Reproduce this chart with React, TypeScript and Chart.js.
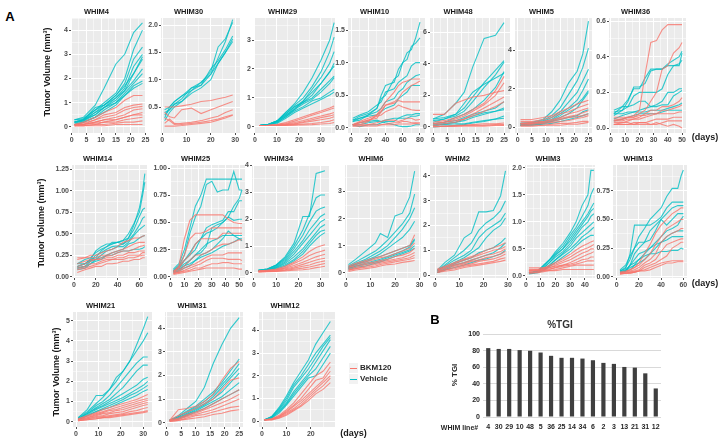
import React, { useEffect, useRef } from "react";
import { Chart, registerables } from "chart.js";

Chart.register(...registerables);

const FONT = "'Liberation Sans', Arial, Helvetica, sans-serif";
Chart.defaults.font.family = FONT;

const BKM_COLOR = "rgba(248,118,109,0.8)";
const VEH_COLOR = "rgba(0,191,196,0.8)";

// ---------------- DATA ----------------
const W4_DAYS = [1, 4, 8, 11, 15, 18, 21, 24];
const W4_VEH = [
  [0.3, 0.4, 0.9, 1.6, 2.6, 3.0, 3.9, 4.3],
  [0.3, 0.35, 0.7, 1.0, 1.4, 2.0, 3.2, 4.0],
  [0.2, 0.3, 0.7, 0.9, 1.3, 1.8, 2.8, 3.3],
  [0.2, 0.3, 0.6, 0.9, 1.2, 1.6, 2.5, 3.0],
  [0.2, 0.25, 0.6, 0.8, 1.1, 1.5, 2.2, 2.8],
  [0.15, 0.25, 0.5, 0.8, 1.2, 1.5, 1.9, 2.4],
  [0.2, 0.3, 0.5, 0.8, 1.0, 1.3, 1.6, 1.8],
  [0.1, 0.2, 0.4, 0.7, 1.0, 1.4, 1.8, 2.2],
  [0.3, 0.3, 0.8, 0.9, 1.3, 1.7, 2.2, 2.9],
  [0.1, 0.2, 0.4, 0.6, 0.9, 1.3, 1.7, 1.9],
];
const W4_BKM = [
  [0.1, 0.2, 0.4, 0.6, 0.8, 1.1, 1.3, 1.3],
  [0.1, 0.15, 0.3, 0.5, 0.6, 0.8, 0.9, 0.95],
  [0.1, 0.1, 0.3, 0.4, 0.5, 0.7, 0.8, 0.85],
  [0.1, 0.1, 0.2, 0.3, 0.4, 0.5, 0.7, 0.75],
  [0.05, 0.1, 0.2, 0.3, 0.3, 0.4, 0.5, 0.6],
  [0.1, 0.1, 0.15, 0.2, 0.3, 0.4, 0.5, 0.5],
  [0.05, 0.05, 0.1, 0.2, 0.2, 0.3, 0.35, 0.4],
  [0.05, 0.05, 0.1, 0.1, 0.15, 0.2, 0.2, 0.25],
  [0.05, 0.05, 0.05, 0.05, 0.1, 0.1, 0.1, 0.1],
];

const W30_DAYS = [1, 3, 5, 8, 12, 16, 20, 23, 26, 29];
const W30_VEH = [
  [0.45, 0.5, 0.6, 0.7, 0.85, 0.95, 1.15, 1.6, 1.75, 2.05],
  [0.4, 0.45, 0.55, 0.65, 0.85, 0.9, 1.1, 1.4, 1.7, 2.1],
  [0.35, 0.45, 0.55, 0.6, 0.8, 0.9, 1.2, 1.35, 1.55, 1.8],
  [0.3, 0.5, 0.6, 0.7, 0.8, 0.95, 1.1, 1.3, 1.5, 1.75],
  [0.25, 0.4, 0.5, 0.6, 0.75, 0.85, 1.0, 1.3, 1.5, 1.7],
];
const W30_BKM = [
  [0.5, 0.5, 0.5, 0.52, 0.55, 0.6, 0.62, 0.65, 0.68, 0.72],
  [0.4, 0.32, 0.3, 0.45, 0.48, 0.38, 0.45, 0.5, 0.55, 0.6],
  [0.3, 0.25, 0.18, 0.2, 0.22, 0.25, 0.3, 0.33, 0.4, 0.45],
  [0.2, 0.28, 0.2, 0.18, 0.2, 0.22, 0.25, 0.28, 0.32, 0.36],
  [0.15, 0.15, 0.15, 0.16, 0.18, 0.2, 0.22, 0.26, 0.3, 0.35],
];

const W29_DAYS = [2, 6, 10, 14, 18, 22, 26, 30, 34, 36];
const W29_VEH = [
  [0.05, 0.08, 0.2, 0.5, 0.8, 1.2, 1.7, 2.3, 3.0, 3.6],
  [0.05, 0.08, 0.2, 0.5, 0.75, 1.0, 1.4, 1.9, 2.6, 3.1],
  [0.05, 0.08, 0.2, 0.45, 0.7, 0.9, 1.3, 1.7, 2.2, 2.6],
  [0.05, 0.08, 0.18, 0.4, 0.65, 0.85, 1.1, 1.5, 1.9, 2.1],
  [0.05, 0.08, 0.2, 0.45, 0.7, 0.85, 1.0, 1.3, 1.6, 1.75],
  [0.05, 0.07, 0.15, 0.35, 0.6, 0.8, 0.95, 1.2, 1.5, 1.7],
  [0.05, 0.07, 0.15, 0.35, 0.55, 0.7, 0.9, 1.0, 1.2, 1.3],
  [0.05, 0.07, 0.12, 0.3, 0.5, 0.65, 0.8, 0.95, 1.1, 1.2],
  [0.05, 0.08, 0.2, 0.4, 0.6, 0.9, 1.2, 1.5, 1.9, 2.2],
];
const W29_BKM = [
  [0.05, 0.06, 0.08, 0.15, 0.25, 0.35, 0.45, 0.55, 0.65, 0.72],
  [0.05, 0.06, 0.08, 0.12, 0.2, 0.3, 0.4, 0.5, 0.6, 0.65],
  [0.05, 0.05, 0.07, 0.1, 0.15, 0.22, 0.3, 0.38, 0.45, 0.5],
  [0.05, 0.05, 0.06, 0.08, 0.12, 0.18, 0.25, 0.32, 0.38, 0.42],
  [0.05, 0.05, 0.06, 0.08, 0.1, 0.15, 0.2, 0.25, 0.3, 0.35],
  [0.05, 0.05, 0.05, 0.06, 0.08, 0.1, 0.12, 0.15, 0.2, 0.25],
  [0.05, 0.05, 0.05, 0.05, 0.06, 0.07, 0.08, 0.1, 0.12, 0.15],
];

const W10_DAYS = [2, 10, 20, 30, 35, 40, 50, 55, 60, 65, 70, 75, 80];
const W10_VEH = [
  [0.12, 0.18, 0.22, 0.3, 0.5, 0.65, 0.7, 0.9, 1.0, 1.15, 1.2, 1.38, 1.62],
  [0.1, 0.15, 0.2, 0.3, 0.45, 0.5, 0.75, 0.8, 1.0, 1.05, 1.25, 1.3, 1.38],
  [0.15, 0.2, 0.25, 0.35, 0.4, 0.55, 0.6, 0.7, 0.75, 0.8, 0.95, 1.0, 1.0],
  [0.1, 0.12, 0.2, 0.25, 0.3, 0.4, 0.45, 0.55, 0.6, 0.7, 0.75, 0.8, 0.82],
  [0.12, 0.15, 0.18, 0.2, 0.25, 0.3, 0.35, 0.45, 0.5, 0.55, 0.65, 0.65, 0.65],
  [0.05, 0.05, 0.08, 0.1, 0.1, 0.12, 0.15, 0.15, 0.18, 0.2, 0.2, 0.22, 0.22],
  [0.05, 0.02, 0.05, 0.05, 0.08, 0.1, 0.1, 0.15, 0.15, 0.15, 0.18, 0.18, 0.2],
  [0.05, 0.08, 0.1, 0.12, 0.1, 0.08, 0.05, 0.03, 0.02, 0.02, 0.03, 0.05, 0.05],
];
const W10_BKM = [
  [0.05, 0.05, 0.1, 0.2, 0.3, 0.4, 0.55, 0.65, 0.7, 0.72, 0.75, 0.75, 0.75],
  [0.05, 0.08, 0.12, 0.15, 0.25, 0.35, 0.4, 0.45, 0.55, 0.6, 0.65, 0.68, 0.72],
  [0.05, 0.1, 0.15, 0.2, 0.25, 0.35, 0.38, 0.42, 0.4, 0.4, 0.4, 0.4, 0.4],
  [0.05, 0.08, 0.12, 0.18, 0.2, 0.25, 0.3, 0.35, 0.32, 0.3, 0.28, 0.27, 0.27],
  [0.05, 0.05, 0.05, 0.08, 0.1, 0.12, 0.12, 0.1, 0.12, 0.15, 0.15, 0.12, 0.13],
  [0.03, 0.03, 0.05, 0.05, 0.05, 0.06, 0.08, 0.08, 0.1, 0.1, 0.08, 0.08, 0.08],
  [0.03, 0.03, 0.03, 0.03, 0.05, 0.05, 0.05, 0.06, 0.06, 0.06, 0.06, 0.07, 0.06],
];

const W48_DAYS = [0, 4, 8, 11, 14, 18, 22, 25];
const W48_VEH = [
  [0.5, 0.8, 1.5, 2.2, 3.8, 5.6, 5.8, 6.6],
  [0.5, 0.6, 0.8, 1.2, 1.9, 2.8, 3.6, 4.2],
  [0.4, 0.5, 0.7, 1.0, 1.6, 2.5, 3.3, 4.1],
  [0.3, 0.5, 0.8, 1.5, 2.2, 2.7, 3.1, 3.4],
  [0.2, 0.3, 0.6, 0.8, 1.1, 1.7, 2.5, 3.5],
  [0.2, 0.3, 0.4, 0.6, 0.8, 1.0, 1.2, 1.6],
  [0.1, 0.2, 0.3, 0.5, 0.7, 0.9, 1.0, 1.2],
  [0.1, 0.2, 0.3, 0.4, 0.6, 0.8, 1.0, 1.1],
  [0.0, 0.05, 0.1, 0.15, 0.25, 0.35, 0.5, 0.7],
  [0.1, 0.15, 0.2, 0.2, 0.3, 0.4, 0.5, 0.55],
];
const W48_BKM = [
  [0.8, 0.8, 1.5, 1.7, 1.9, 2.0, 2.2, 2.3],
  [0.3, 0.4, 0.6, 0.8, 1.1, 1.5, 2.3, 3.2],
  [0.2, 0.3, 0.5, 0.7, 1.0, 1.4, 2.0, 2.8],
  [0.2, 0.3, 0.4, 0.5, 0.8, 1.2, 1.6, 1.9],
  [0.1, 0.2, 0.3, 0.5, 0.7, 1.0, 1.3, 1.6],
  [0.05, 0.05, 0.1, 0.1, 0.15, 0.2, 0.2, 0.25],
  [0.05, 0.05, 0.05, 0.1, 0.1, 0.1, 0.15, 0.15],
  [0.0, 0.05, 0.05, 0.05, 0.05, 0.05, 0.1, 0.1],
];

const W5_DAYS = [1, 5, 9, 12, 15, 18, 21, 23, 25];
const W5_VEH = [
  [0.2, 0.25, 0.4, 0.8, 1.4, 2.3, 2.9, 3.8, 5.5],
  [0.15, 0.2, 0.35, 0.6, 1.0, 1.7, 2.4, 3.1, 4.1],
  [0.2, 0.2, 0.3, 0.5, 0.8, 1.3, 1.8, 2.4, 3.0],
  [0.15, 0.2, 0.3, 0.4, 0.7, 1.0, 1.4, 1.9, 2.5],
  [0.1, 0.15, 0.25, 0.35, 0.6, 0.9, 1.2, 1.5, 1.9],
  [0.1, 0.15, 0.2, 0.3, 0.5, 0.7, 1.0, 1.4, 1.8],
  [0.1, 0.1, 0.2, 0.3, 0.4, 0.5, 0.6, 0.8, 0.9],
  [0.1, 0.1, 0.15, 0.2, 0.3, 0.4, 0.5, 0.6, 0.7],
];
const W5_BKM = [
  [0.4, 0.4, 0.5, 0.6, 0.8, 1.0, 1.2, 1.3, 1.4],
  [0.3, 0.3, 0.4, 0.5, 0.7, 0.8, 1.0, 1.1, 1.2],
  [0.2, 0.25, 0.3, 0.4, 0.5, 0.7, 0.8, 0.9, 1.0],
  [0.2, 0.2, 0.3, 0.35, 0.45, 0.55, 0.65, 0.75, 0.85],
  [0.15, 0.2, 0.25, 0.3, 0.4, 0.5, 0.55, 0.6, 0.7],
  [0.1, 0.15, 0.2, 0.25, 0.3, 0.35, 0.45, 0.5, 0.6],
  [0.1, 0.1, 0.1, 0.15, 0.2, 0.2, 0.25, 0.3, 0.3],
  [0.05, 0.05, 0.1, 0.1, 0.1, 0.15, 0.15, 0.2, 0.25],
];

const W36_DAYS = [2, 8, 12, 16, 20, 24, 28, 32, 36, 40, 44, 48, 50];
const W36_VEH = [
  [0.08, 0.12, 0.16, 0.22, 0.22, 0.28, 0.33, 0.33, 0.33, 0.36, 0.38, 0.4, 0.43],
  [0.09, 0.1, 0.15, 0.23, 0.23, 0.25, 0.32, 0.33, 0.33, 0.35, 0.35, 0.35, 0.42],
  [0.07, 0.1, 0.12, 0.18, 0.2, 0.2, 0.2, 0.2, 0.22, 0.3, 0.35, 0.36, 0.38],
  [0.1, 0.12, 0.12, 0.13, 0.15, 0.15, 0.12, 0.13, 0.15, 0.2, 0.2, 0.22, 0.22],
  [0.08, 0.08, 0.09, 0.09, 0.1, 0.11, 0.12, 0.12, 0.13, 0.13, 0.18, 0.2, 0.21],
  [0.05, 0.07, 0.08, 0.09, 0.09, 0.09, 0.1, 0.1, 0.1, 0.11, 0.12, 0.13, 0.14],
  [0.04, 0.05, 0.06, 0.07, 0.08, 0.08, 0.08, 0.08, 0.09, 0.1, 0.1, 0.1, 0.1],
];
const W36_BKM = [
  [0.04, 0.05, 0.06, 0.07, 0.1, 0.3, 0.48, 0.49, 0.55, 0.58, 0.58, 0.58, 0.58],
  [0.05, 0.05, 0.06, 0.06, 0.08, 0.1, 0.15, 0.2, 0.33, 0.35, 0.42, 0.45, 0.48],
  [0.02, 0.03, 0.04, 0.05, 0.06, 0.08, 0.1, 0.1, 0.12, 0.12, 0.13, 0.15, 0.17],
  [0.04, 0.04, 0.05, 0.05, 0.05, 0.06, 0.07, 0.08, 0.1, 0.1, 0.11, 0.12, 0.13],
  [0.06, 0.06, 0.06, 0.06, 0.07, 0.07, 0.08, 0.08, 0.08, 0.08, 0.08, 0.09, 0.09],
  [0.03, 0.03, 0.03, 0.02, 0.03, 0.03, 0.04, 0.05, 0.05, 0.05, 0.06, 0.06, 0.06],
  [0.02, 0.02, 0.02, 0.03, 0.03, 0.03, 0.02, 0.02, 0.03, 0.04, 0.04, 0.04, 0.04],
  [0.02, 0.02, 0.02, 0.02, 0.02, 0.02, 0.02, 0.03, 0.02, 0.01, 0.02, 0.01, 0.0],
];

const W14_DAYS = [3, 10, 15, 20, 25, 30, 35, 40, 45, 50, 55, 60, 63, 65];
const W14_VEH = [
  [0.12, 0.15, 0.2, 0.3, 0.35, 0.38, 0.38, 0.4, 0.42, 0.45, 0.6, 0.8, 1.0, 1.2],
  [0.15, 0.2, 0.22, 0.28, 0.32, 0.35, 0.4, 0.4, 0.42, 0.5, 0.62, 0.75, 0.95, 1.1],
  [0.1, 0.12, 0.18, 0.25, 0.28, 0.32, 0.35, 0.36, 0.38, 0.45, 0.55, 0.7, 0.78, 0.8],
  [0.12, 0.15, 0.2, 0.22, 0.3, 0.35, 0.38, 0.4, 0.38, 0.42, 0.5, 0.6, 0.68, 0.7],
  [0.08, 0.1, 0.15, 0.2, 0.25, 0.3, 0.32, 0.35, 0.35, 0.4, 0.48, 0.55, 0.58, 0.6],
  [0.1, 0.12, 0.15, 0.18, 0.2, 0.25, 0.28, 0.3, 0.32, 0.38, 0.4, 0.45, 0.47, 0.48],
  [0.15, 0.15, 0.18, 0.2, 0.22, 0.25, 0.25, 0.28, 0.3, 0.3, 0.32, 0.32, 0.33, 0.35],
];
const W14_BKM = [
  [0.2, 0.22, 0.25, 0.25, 0.28, 0.3, 0.32, 0.35, 0.4, 0.42, 0.45, 0.45, 0.47, 0.48],
  [0.22, 0.22, 0.22, 0.22, 0.25, 0.25, 0.28, 0.3, 0.32, 0.35, 0.38, 0.4, 0.4, 0.4],
  [0.15, 0.18, 0.2, 0.2, 0.22, 0.24, 0.25, 0.28, 0.3, 0.3, 0.32, 0.35, 0.36, 0.37],
  [0.12, 0.15, 0.18, 0.2, 0.2, 0.22, 0.22, 0.25, 0.25, 0.28, 0.28, 0.3, 0.3, 0.3],
  [0.1, 0.12, 0.15, 0.15, 0.18, 0.2, 0.2, 0.22, 0.22, 0.25, 0.25, 0.25, 0.28, 0.28],
  [0.08, 0.1, 0.12, 0.14, 0.16, 0.18, 0.2, 0.2, 0.2, 0.22, 0.22, 0.24, 0.25, 0.25],
  [0.05, 0.08, 0.1, 0.12, 0.12, 0.15, 0.15, 0.16, 0.18, 0.18, 0.2, 0.2, 0.22, 0.22],
];

const W25_DAYS = [2, 6, 10, 14, 18, 22, 26, 30, 34, 38, 42, 46, 50, 52];
const W25_VEH = [
  [0.07, 0.12, 0.25, 0.45, 0.65, 0.75, 0.9, 0.9, 0.9, 0.9, 0.9, 0.9, 0.9, 0.9],
  [0.05, 0.1, 0.2, 0.4, 0.55, 0.65, 0.85, 0.88, 0.78, 0.8, 0.8, 0.97, 0.8, 0.8],
  [0.05, 0.08, 0.15, 0.22, 0.3, 0.35, 0.4, 0.42, 0.45, 0.5, 0.55, 0.65, 0.72, 0.8],
  [0.06, 0.1, 0.15, 0.2, 0.25, 0.35, 0.45, 0.48, 0.5, 0.52, 0.6, 0.6, 0.7, 0.7],
  [0.05, 0.08, 0.12, 0.15, 0.2, 0.22, 0.28, 0.45, 0.48, 0.5, 0.55, 0.52, 0.53, 0.53],
  [0.04, 0.06, 0.1, 0.15, 0.2, 0.25, 0.3, 0.33, 0.35, 0.38, 0.38, 0.38, 0.38, 0.38],
  [0.05, 0.07, 0.1, 0.12, 0.15, 0.2, 0.22, 0.25, 0.3, 0.35, 0.42, 0.38, 0.35, 0.33],
  [0.04, 0.05, 0.08, 0.1, 0.15, 0.18, 0.2, 0.22, 0.25, 0.28, 0.3, 0.32, 0.35, 0.35],
];
const W25_BKM = [
  [0.05, 0.1, 0.35, 0.52, 0.57, 0.57, 0.57, 0.57, 0.57, 0.57, 0.53, 0.5, 0.49, 0.49],
  [0.04, 0.08, 0.2, 0.35, 0.4, 0.4, 0.42, 0.45, 0.45, 0.45, 0.45, 0.45, 0.45, 0.45],
  [0.05, 0.08, 0.15, 0.2, 0.3, 0.35, 0.35, 0.35, 0.35, 0.4, 0.4, 0.4, 0.4, 0.4],
  [0.04, 0.06, 0.1, 0.15, 0.2, 0.2, 0.22, 0.25, 0.28, 0.3, 0.3, 0.32, 0.34, 0.34],
  [0.03, 0.05, 0.08, 0.1, 0.12, 0.15, 0.18, 0.2, 0.2, 0.2, 0.22, 0.22, 0.22, 0.22],
  [0.03, 0.04, 0.06, 0.08, 0.1, 0.12, 0.15, 0.17, 0.17, 0.17, 0.16, 0.16, 0.16, 0.15],
  [0.03, 0.04, 0.05, 0.06, 0.08, 0.08, 0.1, 0.12, 0.12, 0.13, 0.13, 0.12, 0.12, 0.12],
  [0.02, 0.03, 0.04, 0.05, 0.06, 0.07, 0.08, 0.08, 0.08, 0.08, 0.08, 0.08, 0.07, 0.07],
];

const W34_DAYS = [2, 6, 10, 14, 18, 22, 25, 28, 30, 32];
const W34_VEH = [
  [0.1, 0.15, 0.3, 0.6, 1.1, 2.1, 2.1, 3.7, 3.75, 3.8],
  [0.1, 0.15, 0.3, 0.55, 1.0, 1.6, 2.2, 2.8, 2.9, 2.9],
  [0.1, 0.15, 0.28, 0.5, 0.9, 1.4, 1.9, 2.3, 2.4, 2.45],
  [0.1, 0.12, 0.25, 0.45, 0.8, 1.2, 1.6, 1.9, 2.1, 2.2],
  [0.08, 0.12, 0.22, 0.4, 0.7, 1.1, 1.4, 1.7, 1.9, 2.0],
  [0.08, 0.1, 0.2, 0.35, 0.6, 0.9, 1.2, 1.5, 1.7, 1.8],
  [0.07, 0.1, 0.18, 0.3, 0.5, 0.8, 1.1, 1.4, 1.55, 1.6],
  [0.06, 0.08, 0.15, 0.25, 0.45, 0.7, 1.0, 1.25, 1.4, 1.5],
];
const W34_BKM = [
  [0.08, 0.1, 0.15, 0.25, 0.4, 0.6, 0.8, 0.95, 1.0, 1.05],
  [0.08, 0.1, 0.12, 0.2, 0.35, 0.5, 0.65, 0.75, 0.8, 0.85],
  [0.06, 0.08, 0.12, 0.18, 0.28, 0.4, 0.5, 0.6, 0.65, 0.7],
  [0.05, 0.07, 0.1, 0.15, 0.22, 0.32, 0.4, 0.48, 0.52, 0.55],
  [0.05, 0.06, 0.08, 0.12, 0.18, 0.25, 0.3, 0.38, 0.42, 0.45],
  [0.05, 0.06, 0.07, 0.1, 0.14, 0.18, 0.22, 0.28, 0.32, 0.35],
  [0.04, 0.05, 0.06, 0.08, 0.1, 0.12, 0.15, 0.2, 0.22, 0.25],
];

const W6_DAYS = [1, 4, 8, 12, 14, 17, 20, 23, 26, 28];
const W6_VEH = [
  [0.3, 0.5, 0.8, 1.1, 1.45, 1.3, 2.1, 2.2, 2.8, 3.75],
  [0.25, 0.4, 0.6, 0.8, 0.95, 1.2, 1.5, 1.8, 2.2, 2.9],
  [0.2, 0.35, 0.5, 0.7, 0.8, 1.0, 1.3, 1.6, 2.0, 2.4],
  [0.2, 0.3, 0.45, 0.6, 0.7, 0.9, 1.1, 1.3, 1.6, 1.9],
  [0.2, 0.3, 0.4, 0.55, 0.6, 0.7, 0.8, 0.9, 1.0, 1.25],
  [0.15, 0.25, 0.35, 0.45, 0.5, 0.6, 0.7, 0.8, 0.95, 1.2],
  [0.15, 0.25, 0.3, 0.4, 0.45, 0.55, 0.65, 0.75, 0.85, 1.0],
  [0.1, 0.2, 0.25, 0.35, 0.4, 0.5, 0.6, 0.7, 0.8, 0.9],
];
const W6_BKM = [
  [0.25, 0.35, 0.45, 0.55, 0.6, 0.7, 0.8, 0.9, 1.0, 1.4],
  [0.2, 0.3, 0.4, 0.5, 0.55, 0.6, 0.7, 0.8, 0.9, 1.1],
  [0.2, 0.25, 0.35, 0.4, 0.45, 0.5, 0.6, 0.65, 0.75, 0.9],
  [0.15, 0.2, 0.3, 0.35, 0.4, 0.45, 0.5, 0.55, 0.65, 0.75],
  [0.1, 0.15, 0.25, 0.3, 0.35, 0.4, 0.45, 0.5, 0.55, 0.65],
  [0.1, 0.15, 0.2, 0.25, 0.3, 0.35, 0.4, 0.45, 0.5, 0.55],
  [0.05, 0.1, 0.15, 0.2, 0.25, 0.3, 0.32, 0.38, 0.42, 0.45],
];

const W2_DAYS = [1, 4, 8, 12, 15, 18, 21, 24, 27, 29];
const W2_VEH = [
  [0.2, 0.5, 0.8, 1.5, 1.7, 2.55, 2.55, 2.6, 3.2, 4.2],
  [0.15, 0.4, 0.7, 1.0, 1.3, 1.8, 2.1, 2.3, 2.6, 3.0],
  [0.2, 0.35, 0.6, 0.8, 1.0, 1.5, 1.8, 2.0, 2.2, 2.5],
  [0.15, 0.3, 0.5, 0.7, 0.9, 1.1, 1.5, 1.8, 2.0, 2.3],
  [0.1, 0.25, 0.45, 0.6, 0.7, 0.9, 1.0, 1.1, 1.3, 1.5],
  [0.1, 0.2, 0.4, 0.5, 0.6, 0.7, 0.8, 0.9, 1.1, 1.3],
  [0.1, 0.2, 0.3, 0.4, 0.5, 0.6, 0.65, 0.75, 0.85, 1.0],
];
const W2_BKM = [
  [0.25, 0.35, 0.5, 0.65, 0.75, 0.85, 1.0, 1.1, 1.2, 1.3],
  [0.2, 0.3, 0.45, 0.6, 0.7, 0.8, 0.9, 1.0, 1.05, 1.15],
  [0.2, 0.3, 0.4, 0.5, 0.6, 0.7, 0.8, 0.85, 0.95, 1.05],
  [0.15, 0.25, 0.35, 0.45, 0.55, 0.6, 0.7, 0.75, 0.85, 0.95],
  [0.15, 0.2, 0.3, 0.4, 0.45, 0.55, 0.6, 0.65, 0.75, 0.85],
  [0.1, 0.2, 0.25, 0.35, 0.4, 0.45, 0.5, 0.55, 0.65, 0.7],
  [0.1, 0.15, 0.2, 0.3, 0.35, 0.4, 0.45, 0.5, 0.55, 0.6],
];

const W3_DAYS = [2, 8, 12, 16, 20, 25, 30, 34, 38, 42, 44, 46];
const W3_VEH = [
  [0.05, 0.08, 0.2, 0.3, 0.45, 0.6, 0.8, 1.0, 1.3, 1.5, 1.95, 1.95],
  [0.05, 0.08, 0.18, 0.3, 0.42, 0.55, 0.75, 0.9, 1.1, 1.3, 1.5, 1.62],
  [0.06, 0.1, 0.2, 0.3, 0.4, 0.5, 0.7, 0.85, 1.0, 1.15, 1.25, 1.35],
  [0.05, 0.08, 0.15, 0.25, 0.38, 0.5, 0.65, 0.8, 0.95, 1.1, 1.2, 1.25],
  [0.05, 0.08, 0.15, 0.25, 0.35, 0.45, 0.6, 0.75, 0.9, 1.0, 1.1, 1.15],
  [0.05, 0.07, 0.12, 0.2, 0.3, 0.42, 0.55, 0.7, 0.8, 0.9, 0.95, 1.0],
  [0.05, 0.07, 0.12, 0.2, 0.3, 0.4, 0.5, 0.6, 0.72, 0.8, 0.85, 0.9],
  [0.04, 0.06, 0.1, 0.18, 0.25, 0.35, 0.45, 0.55, 0.65, 0.72, 0.75, 0.75],
];
const W3_BKM = [
  [0.1, 0.12, 0.15, 0.2, 0.25, 0.32, 0.4, 0.48, 0.55, 0.6, 0.63, 0.65],
  [0.08, 0.1, 0.13, 0.18, 0.22, 0.28, 0.35, 0.42, 0.48, 0.52, 0.55, 0.58],
  [0.06, 0.08, 0.12, 0.15, 0.2, 0.25, 0.3, 0.36, 0.42, 0.46, 0.5, 0.5],
  [0.05, 0.07, 0.1, 0.12, 0.16, 0.2, 0.25, 0.3, 0.35, 0.4, 0.42, 0.45],
  [0.15, 0.15, 0.15, 0.16, 0.18, 0.2, 0.22, 0.25, 0.3, 0.32, 0.35, 0.35],
  [0.12, 0.12, 0.12, 0.13, 0.15, 0.18, 0.2, 0.22, 0.25, 0.28, 0.28, 0.28],
  [0.05, 0.06, 0.08, 0.1, 0.12, 0.15, 0.18, 0.2, 0.2, 0.2, 0.2, 0.2],
  [0.1, 0.1, 0.1, 0.1, 0.1, 0.12, 0.12, 0.12, 0.12, 0.12, 0.12, 0.12],
];

const W13_DAYS = [3, 8, 12, 16, 20, 25, 30, 35, 40, 45, 50, 55, 58, 60];
const W13_VEH = [
  [0.05, 0.08, 0.15, 0.25, 0.35, 0.42, 0.5, 0.55, 0.6, 0.7, 0.77, 0.77, 0.88, 0.93],
  [0.05, 0.07, 0.2, 0.45, 0.45, 0.45, 0.45, 0.48, 0.52, 0.6, 0.65, 0.65, 0.65, 0.65],
  [0.04, 0.06, 0.1, 0.2, 0.25, 0.3, 0.4, 0.45, 0.5, 0.55, 0.6, 0.62, 0.62, 0.62],
  [0.06, 0.1, 0.18, 0.25, 0.3, 0.3, 0.32, 0.4, 0.5, 0.45, 0.5, 0.55, 0.55, 0.55],
  [0.03, 0.05, 0.1, 0.15, 0.2, 0.22, 0.25, 0.3, 0.35, 0.4, 0.42, 0.45, 0.5, 0.53],
  [0.04, 0.05, 0.08, 0.1, 0.15, 0.2, 0.25, 0.28, 0.3, 0.35, 0.38, 0.4, 0.4, 0.4],
  [0.03, 0.05, 0.06, 0.1, 0.12, 0.15, 0.2, 0.25, 0.3, 0.32, 0.35, 0.35, 0.35, 0.35],
  [0.05, 0.05, 0.1, 0.12, 0.15, 0.18, 0.2, 0.2, 0.22, 0.22, 0.23, 0.23, 0.25, 0.24],
];
const W13_BKM = [
  [0.04, 0.05, 0.06, 0.08, 0.12, 0.2, 0.28, 0.38, 0.45, 0.5, 0.55, 0.58, 0.6, 0.6],
  [0.03, 0.04, 0.06, 0.08, 0.1, 0.15, 0.2, 0.28, 0.35, 0.42, 0.45, 0.48, 0.5, 0.5],
  [0.03, 0.04, 0.05, 0.06, 0.08, 0.12, 0.15, 0.2, 0.3, 0.35, 0.38, 0.4, 0.42, 0.42],
  [0.03, 0.03, 0.04, 0.05, 0.06, 0.1, 0.12, 0.15, 0.22, 0.28, 0.3, 0.32, 0.33, 0.33],
  [0.03, 0.03, 0.04, 0.04, 0.05, 0.08, 0.1, 0.12, 0.15, 0.18, 0.25, 0.28, 0.3, 0.3],
  [0.03, 0.03, 0.03, 0.04, 0.05, 0.06, 0.08, 0.1, 0.12, 0.13, 0.14, 0.14, 0.14, 0.14],
  [0.02, 0.03, 0.03, 0.04, 0.05, 0.05, 0.06, 0.08, 0.1, 0.12, 0.12, 0.13, 0.13, 0.13],
];

const W21_DAYS = [1, 5, 9, 12, 15, 18, 21, 24, 27, 30, 32];
const W21_VEH = [
  [0.2, 0.6, 1.3, 1.3, 1.6, 2.2, 2.5, 3.0, 3.8, 4.6, 5.2],
  [0.2, 0.5, 0.9, 1.2, 1.6, 2.0, 2.5, 3.0, 3.5, 4.0, 4.4],
  [0.15, 0.45, 0.8, 1.0, 1.3, 1.7, 2.1, 2.5, 2.9, 3.2, 3.2],
  [0.15, 0.4, 0.7, 0.9, 1.1, 1.4, 1.7, 2.1, 2.5, 2.8, 2.8],
  [0.15, 0.4, 0.65, 0.8, 1.0, 1.2, 1.4, 1.6, 1.8, 2.1, 2.2],
  [0.1, 0.35, 0.6, 0.75, 0.9, 1.05, 1.2, 1.4, 1.6, 1.8, 2.0],
  [0.1, 0.3, 0.5, 0.65, 0.8, 0.95, 1.1, 1.3, 1.45, 1.65, 1.8],
  [0.1, 0.3, 0.5, 0.6, 0.7, 0.85, 1.0, 1.15, 1.3, 1.5, 1.6],
];
const W21_BKM = [
  [0.15, 0.3, 0.45, 0.6, 0.7, 0.8, 0.9, 1.0, 1.1, 1.25, 1.35],
  [0.15, 0.25, 0.4, 0.5, 0.6, 0.7, 0.8, 0.9, 1.0, 1.1, 1.15],
  [0.1, 0.2, 0.35, 0.45, 0.55, 0.6, 0.7, 0.8, 0.9, 1.0, 1.05],
  [0.1, 0.2, 0.3, 0.4, 0.45, 0.55, 0.6, 0.7, 0.8, 0.9, 0.95],
  [0.1, 0.15, 0.25, 0.3, 0.4, 0.45, 0.5, 0.6, 0.7, 0.8, 0.85],
  [0.05, 0.15, 0.2, 0.25, 0.3, 0.35, 0.4, 0.5, 0.55, 0.65, 0.7],
  [0.05, 0.1, 0.15, 0.2, 0.25, 0.3, 0.35, 0.4, 0.45, 0.5, 0.55],
  [0.05, 0.1, 0.15, 0.2, 0.2, 0.25, 0.3, 0.35, 0.4, 0.45, 0.5],
];

const W31_DAYS = [1, 4, 7, 10, 13, 16, 19, 22, 25];
const W31_VEH = [
  [0.1, 0.3, 0.6, 0.9, 1.5, 2.5, 3.3, 4.0, 4.45],
  [0.1, 0.25, 0.5, 0.7, 1.0, 1.3, 1.7, 2.2, 2.7],
  [0.1, 0.25, 0.45, 0.65, 0.9, 1.2, 1.6, 2.0, 2.5],
  [0.1, 0.2, 0.4, 0.6, 0.8, 1.1, 1.5, 1.9, 2.3],
  [0.1, 0.2, 0.35, 0.55, 0.75, 1.0, 1.3, 1.7, 2.1],
  [0.08, 0.2, 0.35, 0.5, 0.7, 0.9, 1.1, 1.4, 1.7],
  [0.08, 0.15, 0.3, 0.45, 0.6, 0.8, 1.0, 1.2, 1.4],
];
const W31_BKM = [
  [0.1, 0.55, 0.6, 0.7, 0.9, 1.2, 1.8, 2.3, 2.6],
  [0.1, 0.3, 0.45, 0.6, 0.8, 1.0, 1.4, 1.8, 1.9],
  [0.1, 0.2, 0.35, 0.45, 0.6, 0.8, 1.0, 1.2, 1.4],
  [0.08, 0.15, 0.3, 0.4, 0.55, 0.7, 0.85, 1.0, 1.2],
  [0.08, 0.15, 0.25, 0.35, 0.45, 0.55, 0.7, 0.85, 1.0],
  [0.05, 0.1, 0.2, 0.3, 0.35, 0.45, 0.55, 0.65, 0.7],
  [0.05, 0.1, 0.15, 0.2, 0.25, 0.35, 0.4, 0.5, 0.55],
];

const W12_DAYS = [1, 4, 7, 10, 13, 16, 19, 22, 25, 28];
const W12_VEH = [
  [0.05, 0.2, 0.6, 1.1, 1.7, 2.2, 2.7, 3.4, 3.9, 4.4],
  [0.05, 0.2, 0.55, 1.0, 1.6, 2.0, 2.5, 3.0, 3.4, 3.8],
  [0.05, 0.18, 0.5, 0.9, 1.5, 1.9, 2.3, 2.8, 3.3, 3.7],
  [0.05, 0.15, 0.45, 0.8, 1.3, 1.7, 2.1, 2.6, 3.1, 3.6],
  [0.05, 0.15, 0.4, 0.75, 1.2, 1.6, 2.0, 2.3, 2.8, 3.3],
  [0.05, 0.12, 0.35, 0.7, 1.1, 1.5, 1.9, 2.0, 2.5, 3.0],
];
const W12_BKM = [
  [0.05, 0.1, 0.25, 0.5, 0.8, 1.2, 1.6, 2.0, 2.2, 2.6],
  [0.05, 0.1, 0.2, 0.45, 0.7, 1.0, 1.4, 1.8, 1.9, 2.4],
  [0.05, 0.08, 0.2, 0.4, 0.65, 0.9, 1.2, 1.5, 1.8, 2.2],
  [0.05, 0.08, 0.18, 0.35, 0.55, 0.8, 1.1, 1.4, 1.7, 2.0],
  [0.05, 0.06, 0.15, 0.3, 0.5, 0.7, 1.0, 1.3, 1.55, 1.9],
  [0.05, 0.05, 0.12, 0.25, 0.45, 0.65, 0.9, 1.2, 1.4, 1.7],
];

const TGI_LINES = ["4", "30", "29", "10", "48", "5", "36", "25", "14", "34", "6", "2", "3", "13", "21", "31", "12"];
const TGI_VALUES = [83, 82, 82, 80.6, 79.8, 77.7, 73.7, 71.3, 71.3, 70.4, 68.4, 65.2, 64, 60.3, 59.5, 52.6, 34.4];

// ---------------- LAYOUT ----------------
type PanelSpec = {
  title: string; days: number[]; bkm: number[][]; veh: number[][];
  l: number; r: number; t: number; b: number;
  xMin: number; xMax: number; xStep: number;
  yMin: number; yMax: number; yStep: number; yDec: number;
};

const R1 = { t: 18, b: 133 };
const R2 = { t: 165, b: 278 };
const R3 = { t: 312, b: 427 };

const PANELS: PanelSpec[] = [
  { title: "WHIM4", days: W4_DAYS, bkm: W4_BKM, veh: W4_VEH, l: 71, r: 146, ...R1, xMin: -0.2, xMax: 25.2, xStep: 5, yMin: -0.25, yMax: 4.5, yStep: 1, yDec: 0 },
  { title: "WHIM30", days: W30_DAYS, bkm: W30_BKM, veh: W30_VEH, l: 161, r: 240, ...R1, xMin: -0.5, xMax: 32, xStep: 10, yMin: 0.024, yMax: 2.13, yStep: 0.5, yDec: 1 },
  { title: "WHIM29", days: W29_DAYS, bkm: W29_BKM, veh: W29_VEH, l: 254, r: 335, ...R1, xMin: -0.45, xMax: 36.4, xStep: 10, yMin: -0.21, yMax: 3.76, yStep: 1, yDec: 0 },
  { title: "WHIM10", days: W10_DAYS, bkm: W10_BKM, veh: W10_VEH, l: 348, r: 425, ...R1, xMin: -3.5, xMax: 85.8, xStep: 20, yMin: -0.077, yMax: 1.684, yStep: 0.5, yDec: 1 },
  { title: "WHIM48", days: W48_DAYS, bkm: W48_BKM, veh: W48_VEH, l: 430, r: 510, ...R1, xMin: -1.06, xMax: 27.1, xStep: 5, yMin: -0.38, yMax: 6.89, yStep: 2, yDec: 0 },
  { title: "WHIM5", days: W5_DAYS, bkm: W5_BKM, veh: W5_VEH, l: 515, r: 592, ...R1, xMin: -0.95, xMax: 26.25, xStep: 5, yMin: -0.3, yMax: 5.66, yStep: 2, yDec: 0 },
  { title: "WHIM36", days: W36_DAYS, bkm: W36_BKM, veh: W36_VEH, l: 609, r: 686, ...R1, xMin: -1.4, xMax: 52.8, xStep: 10, yMin: -0.028, yMax: 0.617, yStep: 0.2, yDec: 1 },

  { title: "WHIM14", days: W14_DAYS, bkm: W14_BKM, veh: W14_VEH, l: 72, r: 147, ...R2, xMin: -1.84, xMax: 67, xStep: 20, yMin: -0.015, yMax: 1.3, yStep: 0.25, yDec: 2 },
  { title: "WHIM25", days: W25_DAYS, bkm: W25_BKM, veh: W25_VEH, l: 170, r: 245, ...R2, xMin: -0.5, xMax: 54.2, xStep: 10, yMin: -0.012, yMax: 1.03, yStep: 0.25, yDec: 2 },
  { title: "WHIM34", days: W34_DAYS, bkm: W34_BKM, veh: W34_VEH, l: 252, r: 329, ...R2, xMin: -0.9, xMax: 33.8, xStep: 10, yMin: -0.186, yMax: 4.015, yStep: 1, yDec: 0 },
  { title: "WHIM6", days: W6_DAYS, bkm: W6_BKM, veh: W6_VEH, l: 345, r: 421, ...R2, xMin: -0.41, xMax: 30.6, xStep: 10, yMin: -0.196, yMax: 3.98, yStep: 1, yDec: 0 },
  { title: "WHIM2", days: W2_DAYS, bkm: W2_BKM, veh: W2_VEH, l: 430, r: 509, ...R2, xMin: -2.06, xMax: 30.45, xStep: 10, yMin: -0.121, yMax: 4.44, yStep: 1, yDec: 0 },
  { title: "WHIM3", days: W3_DAYS, bkm: W3_BKM, veh: W3_VEH, l: 525, r: 595, ...R2, xMin: -0.68, xMax: 46.8, xStep: 10, yMin: -0.037, yMax: 2.05, yStep: 0.5, yDec: 1 },
  { title: "WHIM13", days: W13_DAYS, bkm: W13_BKM, veh: W13_VEH, l: 613, r: 687, ...R2, xMin: -3.33, xMax: 63.3, xStep: 20, yMin: -0.011, yMax: 0.974, yStep: 0.25, yDec: 2 },

  { title: "WHIM21", days: W21_DAYS, bkm: W21_BKM, veh: W21_VEH, l: 73, r: 152, ...R3, xMin: -1.34, xMax: 33.9, xStep: 10, yMin: -0.262, yMax: 5.43, yStep: 1, yDec: 0 },
  { title: "WHIM31", days: W31_DAYS, bkm: W31_BKM, veh: W31_VEH, l: 165, r: 243, ...R3, xMin: -0.59, xMax: 26.3, xStep: 5, yMin: -0.182, yMax: 4.69, yStep: 1, yDec: 0 },
  { title: "WHIM12", days: W12_DAYS, bkm: W12_BKM, veh: W12_VEH, l: 259, r: 335, ...R3, xMin: -1.23, xMax: 29.9, xStep: 10, yMin: -0.265, yMax: 4.82, yStep: 1, yDec: 0 },
];

const PAD_L = 24, PAD_R = 6, PAD_T = 14, PAD_B = 12;

const panelBg = {
  id: "panelBg",
  beforeDraw(chart: any) {
    const { ctx, chartArea: a } = chart;
    ctx.save();
    ctx.fillStyle = "#EBEBEB";
    ctx.fillRect(a.left, a.top, a.right - a.left, a.bottom - a.top);
    ctx.restore();
  },
};

const isMajor = (v: number, step: number) => Math.abs(v / step - Math.round(v / step)) < 1e-6;

function zeroPad(s: any) {
  s.paddingLeft = 0; s.paddingRight = 0; s.paddingTop = 0; s.paddingBottom = 0;
}

function makeAxis(min: number, max: number, step: number, dec: number, horizontal: boolean) {
  return {
    type: "linear" as const,
    min, max,
    ticks: {
      stepSize: step / 2,
      includeBounds: false,
      autoSkip: false,
      maxRotation: 0,
      minRotation: 0,
      padding: 1,
      color: "#4D4D4D",
      font: { size: 7, weight: "bold" as const, family: FONT },
      callback: (v: any) => (isMajor(Number(v), step) ? Number(v).toFixed(dec) : ""),
    },
    grid: {
      color: "#FFFFFF",
      lineWidth: (c: any) => (c.tick && isMajor(c.tick.value, step) ? 1 : 0.5),
      tickColor: (c: any) => (c.tick && isMajor(c.tick.value, step) ? "#4D4D4D" : "rgba(0,0,0,0)"),
      tickLength: 2,
      drawTicks: true,
    },
    border: { display: false },
    afterFit: (s: any) => {
      if (horizontal) s.height = PAD_B; else s.width = PAD_L;
      zeroPad(s);
    },
  };
}

function Panel({ spec }: { spec: PanelSpec }) {
  const ref = useRef<HTMLCanvasElement>(null);
  const width = spec.r - spec.l + PAD_L + PAD_R;
  const height = spec.b - spec.t + PAD_T + PAD_B;
  useEffect(() => {
    if (!ref.current) return;
    const toLine = (vals: number[], color: string) => ({
      data: spec.days.map((d, i) => ({ x: d, y: vals[i] })),
      borderColor: color,
      backgroundColor: color,
      borderWidth: 1.1,
      pointRadius: 0,
      fill: false,
      tension: 0,
    });
    const chart = new Chart(ref.current, {
      type: "line",
      data: {
        datasets: [
          ...spec.bkm.map((v) => toLine(v, BKM_COLOR)),
          ...spec.veh.map((v) => toLine(v, VEH_COLOR)),
        ],
      },
      options: {
        responsive: false,
        animation: false,
        devicePixelRatio: 1,
        events: [],
        layout: { padding: { left: 0, right: PAD_R, top: 0, bottom: 0 } },
        plugins: {
          legend: { display: false },
          tooltip: { enabled: false },
          title: {
            display: true,
            text: spec.title,
            color: "#1A1A1A",
            font: { size: 7.5, weight: "bold", family: FONT, lineHeight: 1 },
            padding: { top: PAD_T - 7.5 - 2, bottom: 2 },
          },
        },
        scales: {
          x: makeAxis(spec.xMin, spec.xMax, spec.xStep, 0, true),
          y: makeAxis(spec.yMin, spec.yMax, spec.yStep, spec.yDec, false),
        },
      } as any,
      plugins: [panelBg],
    });
    return () => chart.destroy();
  }, [spec]);
  return (
    <canvas
      ref={ref}
      width={width}
      height={height}
      style={{ position: "absolute", left: spec.l - PAD_L, top: spec.t - PAD_T, width, height }}
    />
  );
}

const BAR_BOX = { left: 440, top: 316, width: 230, height: 120 };

function TgiChart() {
  const ref = useRef<HTMLCanvasElement>(null);
  useEffect(() => {
    if (!ref.current) return;
    const chart = new Chart(ref.current, {
      type: "bar",
      data: {
        labels: TGI_LINES,
        datasets: [{ data: TGI_VALUES, backgroundColor: "#3F3F3F", barPercentage: 0.4, categoryPercentage: 1, maxBarThickness: 4.5 }],
      },
      options: {
        responsive: false,
        animation: false,
        devicePixelRatio: 1,
        events: [],
        layout: { padding: { left: 0, right: 9, top: 18, bottom: 0 } },
        plugins: { legend: { display: false }, tooltip: { enabled: false } },
        scales: {
          x: {
            grid: { display: false, drawTicks: false },
            border: { display: false },
            ticks: { autoSkip: false, maxRotation: 0, minRotation: 0, padding: 6, color: "#262626", font: { size: 7, weight: "bold", family: FONT } },
            afterFit: (s: any) => { s.height = 19; zeroPad(s); },
          },
          y: {
            min: 0, max: 100,
            ticks: { stepSize: 20, padding: 3, color: "#262626", font: { size: 7, weight: "bold", family: FONT } },
            grid: { color: "#D9D9D9", drawTicks: false, lineWidth: 1 },
            border: { display: false },
            afterFit: (s: any) => { s.width = 43; zeroPad(s); },
          },
        },
      } as any,
    });
    return () => chart.destroy();
  }, []);
  return (
    <canvas
      ref={ref}
      width={BAR_BOX.width}
      height={BAR_BOX.height}
      style={{ position: "absolute", left: BAR_BOX.left, top: BAR_BOX.top, width: BAR_BOX.width, height: BAR_BOX.height }}
    />
  );
}

function Label({ x, y, text, size, rotate = false, color = "#1A1A1A" }: { x: number; y: number; text: string; size: number; rotate?: boolean; color?: string }) {
  return (
    <div
      style={{
        position: "absolute",
        left: x,
        top: y,
        transform: `translate(-50%, -50%)${rotate ? " rotate(-90deg)" : ""}`,
        fontFamily: FONT,
        fontWeight: "bold",
        fontSize: size,
        lineHeight: 1,
        color,
        whiteSpace: "nowrap",
      }}
    >
      {text}
    </div>
  );
}

function LegendItem({ y, color, text }: { y: number; color: string; text: string }) {
  return (
    <>
      <div style={{ position: "absolute", left: 349, top: y - 5, width: 9, height: 10, background: "#F2F2F2" }} />
      <div style={{ position: "absolute", left: 350, top: y - 0.75, width: 7, height: 1.5, background: color }} />
      <div
        style={{
          position: "absolute", left: 360, top: y, transform: "translateY(-50%)",
          fontFamily: FONT, fontWeight: "bold", fontSize: 8, lineHeight: 1, color: "#262626", whiteSpace: "nowrap",
        }}
      >
        {text}
      </div>
    </>
  );
}

export default function App() {
  return (
    <div style={{ position: "absolute", left: 0, top: 0, width: 726, height: 446, background: "#FFFFFF", overflow: "hidden" }}>
      {PANELS.map((p) => (
        <Panel key={p.title} spec={p} />
      ))}
      <TgiChart />

      <Label x={10} y={16} text="A" size={13} color="#000" />
      <Label x={435} y={319} text="B" size={13} color="#000" />

      <Label x={47} y={72} text="Tumor Volume (mm³)" size={9} rotate />
      <Label x={41} y={223} text="Tumor Volume (mm³)" size={9} rotate />
      <Label x={56} y={372} text="Tumor Volume (mm³)" size={9} rotate />

      <Label x={705} y={137} text="(days)" size={9} />
      <Label x={705} y={283} text="(days)" size={9} />
      <Label x={353.5} y={433} text="(days)" size={9} />

      <LegendItem y={368.3} color="#F8766D" text="BKM120" />
      <LegendItem y={379.3} color="#00BFC4" text="Vehicle" />

      <Label x={560} y={325} text="%TGI" size={10} color="#333" />
      <Label x={455} y={375} text="% TGI" size={8} rotate color="#262626" />
      <Label x={459.5} y={427} text="WHIM line#" size={7} color="#262626" />
    </div>
  );
}
